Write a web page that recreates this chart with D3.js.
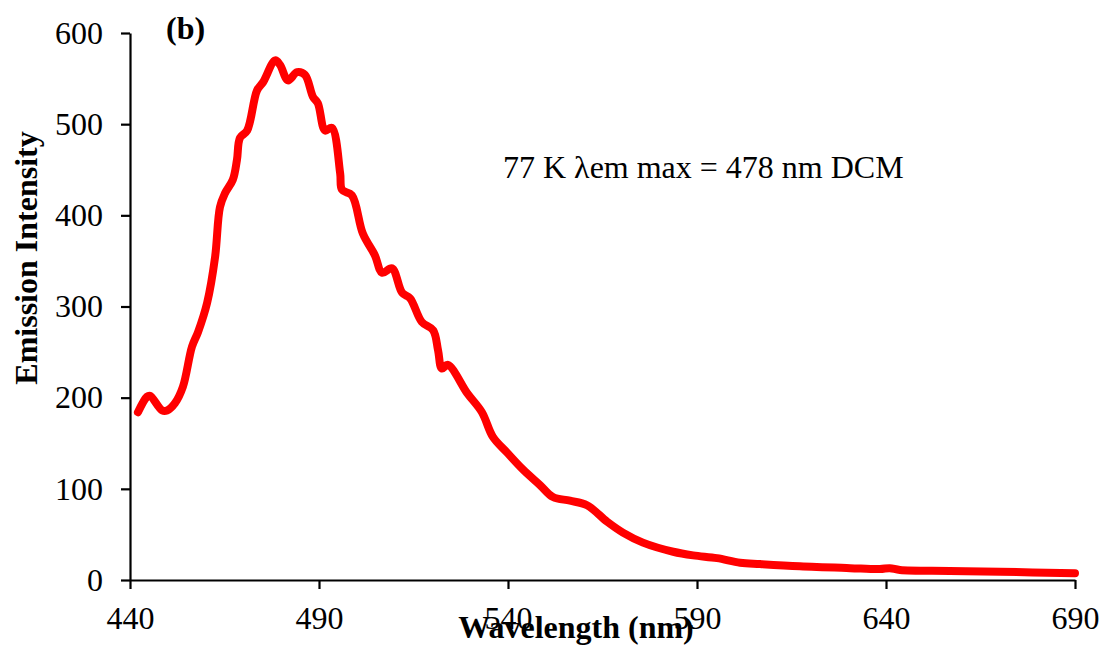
<!DOCTYPE html>
<html>
<head>
<meta charset="utf-8">
<script src="https://cdn.jsdelivr.net/npm/d3@7/dist/d3.min.js"></script>
<style>
  body { margin: 0; background: #fff; }
  text { font-family: "Liberation Serif", "Times New Roman", serif; }
</style>
</head>
<body>
<div id="chart"></div>
<script>
// emission spectrum (wavelength nm, intensity)
var wavelengths = [442.1, 444.5, 445.3, 448.5, 449.8, 451.9, 454, 456.4, 458, 460.4, 462.5, 463.8, 465.1, 467.2,
	468.3, 469.1, 471, 473.6, 475.2, 478.4, 479.7, 481.8, 484.2, 486.3, 488.4, 489.7, 491.6, 493.4, 495.6,
	496.1, 498.7, 501.6, 504.8, 506.7, 509.3, 512, 514.1, 517.2, 520.2, 521.5, 522.5, 524.1, 529.2, 533.1,
	536, 539.7, 544, 548.5, 551.9, 556.4, 560.9, 566.2, 570.4, 575.7, 583.7, 589, 595.3, 601.4, 606.7,
	617.2, 630.5, 638.4, 641, 643.7, 656.9, 670.2, 690];
var intensity = [184, 201, 202, 186, 186, 194, 212, 256, 272, 304, 354, 409, 424, 439,
	461, 485, 493, 537, 546, 570, 565, 548, 557, 554, 530, 523, 493, 496, 446,
	428, 422, 380, 356, 337, 342, 315, 309, 283, 274, 252, 232, 236, 205, 184,
	157, 140, 121, 104, 91, 87, 82, 64, 52, 41, 31, 27, 24, 19, 17.5,
	15, 13, 12, 13, 11, 10, 9, 7.5];
var xTicks = [440, 490, 540, 590, 640, 690];
var yTicks = [0, 100, 200, 300, 400, 500, 600];

var width = 1103, height = 654;
var margin = {top: 33, right: 28, bottom: 74, left: 130};
var fontSize = 32;

var svg = d3.select("#chart").append("svg")
	.attr("width", width)
	.attr("height", height);

var x = d3.scaleLinear().domain([440, 690]).range([margin.left, width - margin.right]);
var y = d3.scaleLinear().domain([0, 600]).range([height - margin.bottom, margin.top]);

var xAxis = svg.append("g")
	.attr("transform", "translate(0," + y(0) + ")")
	.call(d3.axisBottom(x).tickValues(xTicks).tickSize(9).tickPadding(17).tickSizeOuter(0));
var yAxis = svg.append("g")
	.attr("transform", "translate(" + x(440) + ",0)")
	.call(d3.axisLeft(y).tickValues(yTicks).tickSize(9).tickPadding(18).tickSizeOuter(0));

[xAxis, yAxis].forEach(function(g) {
	g.selectAll("path, line").attr("stroke", "#000").attr("stroke-width", 2.2);
	g.selectAll("text")
		.style("font-family", "'Liberation Serif', serif")
		.style("font-size", fontSize + "px")
		.attr("fill", "#000");
});

var points = wavelengths.map(function(w, i) { return [w, intensity[i]]; });
var line = d3.line()
	.x(function(d) { return x(d[0]); })
	.y(function(d) { return y(d[1]); })
	.curve(d3.curveCatmullRom);

svg.append("path")
	.datum(points)
	.attr("fill", "none")
	.attr("stroke", "#ff0000")
	.attr("stroke-width", 8)
	.attr("stroke-linejoin", "round")
	.attr("stroke-linecap", "round")
	.attr("d", line);

// labels
svg.append("text")
	.attr("x", 576).attr("y", 638)
	.attr("text-anchor", "middle")
	.style("font-size", fontSize + "px")
	.style("font-weight", "bold")
	.text("Wavelength (nm)");

svg.append("text")
	.attr("transform", "translate(37,258) rotate(-90)")
	.attr("text-anchor", "middle")
	.style("font-size", fontSize + "px")
	.style("font-weight", "bold")
	.text("Emission Intensity");

svg.append("text")
	.attr("x", 166).attr("y", 39)
	.style("font-size", fontSize + "px")
	.style("font-weight", "bold")
	.text("(b)");

svg.append("text")
	.attr("x", 503).attr("y", 178)
	.style("font-size", fontSize + "px")
	.text("77 K \u03bbem max = 478 nm DCM");
</script>
</body>
</html>
